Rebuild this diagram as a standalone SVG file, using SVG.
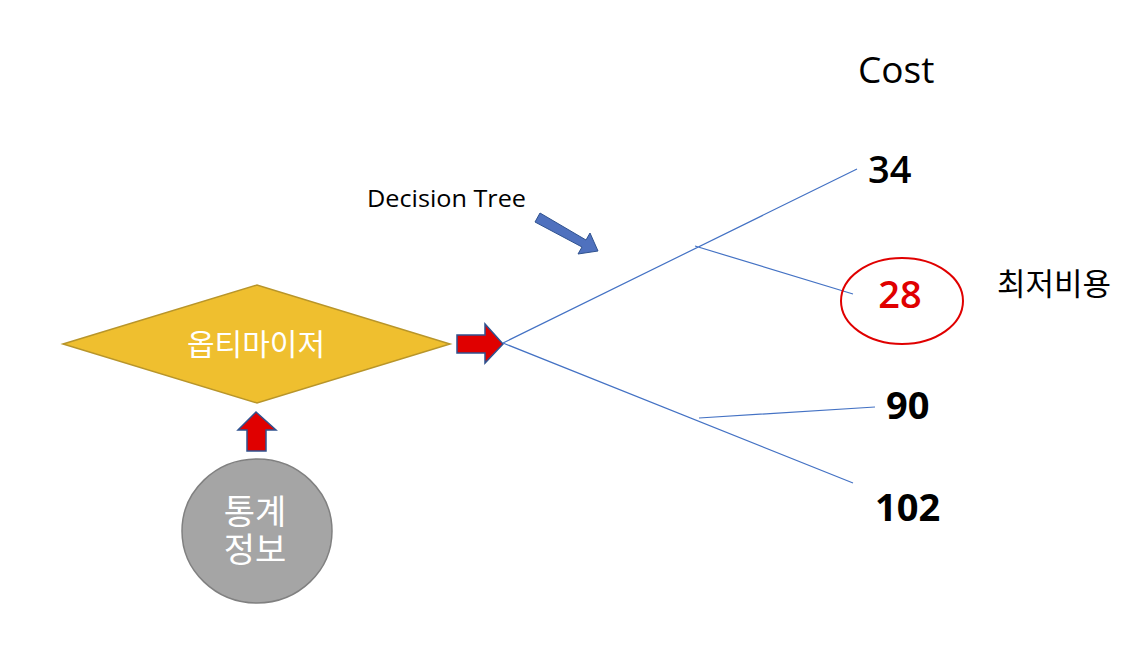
<svg xmlns="http://www.w3.org/2000/svg" width="1144" height="656" viewBox="0 0 1144 656">
<style>
.lat{font-family:"Open Sans","Liberation Sans",sans-serif;}
.kr{font-family:"Noto Sans CJK KR","Noto Sans",sans-serif;}
.tree{stroke:#4472c4;stroke-width:1.2;fill:none;}
.redarrow{fill:#e00000;stroke:#2f528f;stroke-width:1.5;stroke-linejoin:miter;}
</style>
<rect width="1144" height="656" fill="#ffffff"/>
<g id="optimizer">
<polygon points="63,344 257,285 450,344 257,403" fill="#efbf2f" stroke="#b8952a" stroke-width="1.5"/>
<text x="256" y="355" class="kr" font-size="30" fill="#ffffff" text-anchor="middle">옵티마이저</text>
</g>
<g id="stats">
<ellipse cx="257" cy="531" rx="75" ry="72" fill="#a5a5a5" stroke="#808080" stroke-width="1.5"/>
<text class="kr" font-size="34" fill="#ffffff" text-anchor="middle"><tspan x="255" y="524">통계</tspan><tspan x="255" y="562">정보</tspan></text>
</g>
<g id="connectors">
<polygon class="redarrow" points="457,335 485,335 485,324 503,344 485,363 485,353 457,353"/>
<polygon class="redarrow" points="247,451 247,430 238,430 256,412 276,430 266,430 266,451"/>
<polygon points="535,222 540,213 586,240 590,233 598,251 578,254 582,247" fill="#4f71be" stroke="#2f528f" stroke-width="1"/>
<path class="tree" d="M503,343 L857,169 M695,246 L853,294 M503,343 L853,483 M699,418 L875,407"/>
</g>
<g id="labels">
<text x="367" y="207" class="lat" font-size="24" fill="#000000" textLength="159" lengthAdjust="spacingAndGlyphs">Decision Tree</text>
<text x="858" y="83" class="lat" font-size="37" fill="#000000">Cost</text>
<text x="868" y="183" class="lat" font-size="38" font-weight="600" fill="#000000">34</text>
<g id="min-cost">
<ellipse cx="902" cy="301" rx="61" ry="43" fill="none" stroke="#e00000" stroke-width="2"/>
<text x="900" y="308" class="lat" font-size="38" font-weight="600" fill="#e00000" text-anchor="middle">28</text>
</g>
<text x="997" y="295" class="kr" font-size="31" fill="#000000">최저비용</text>
<text x="886" y="419" class="lat" font-size="38" font-weight="700" fill="#000000">90</text>
<text x="875" y="521" class="lat" font-size="38" font-weight="700" fill="#000000">102</text>
</g>
</svg>
